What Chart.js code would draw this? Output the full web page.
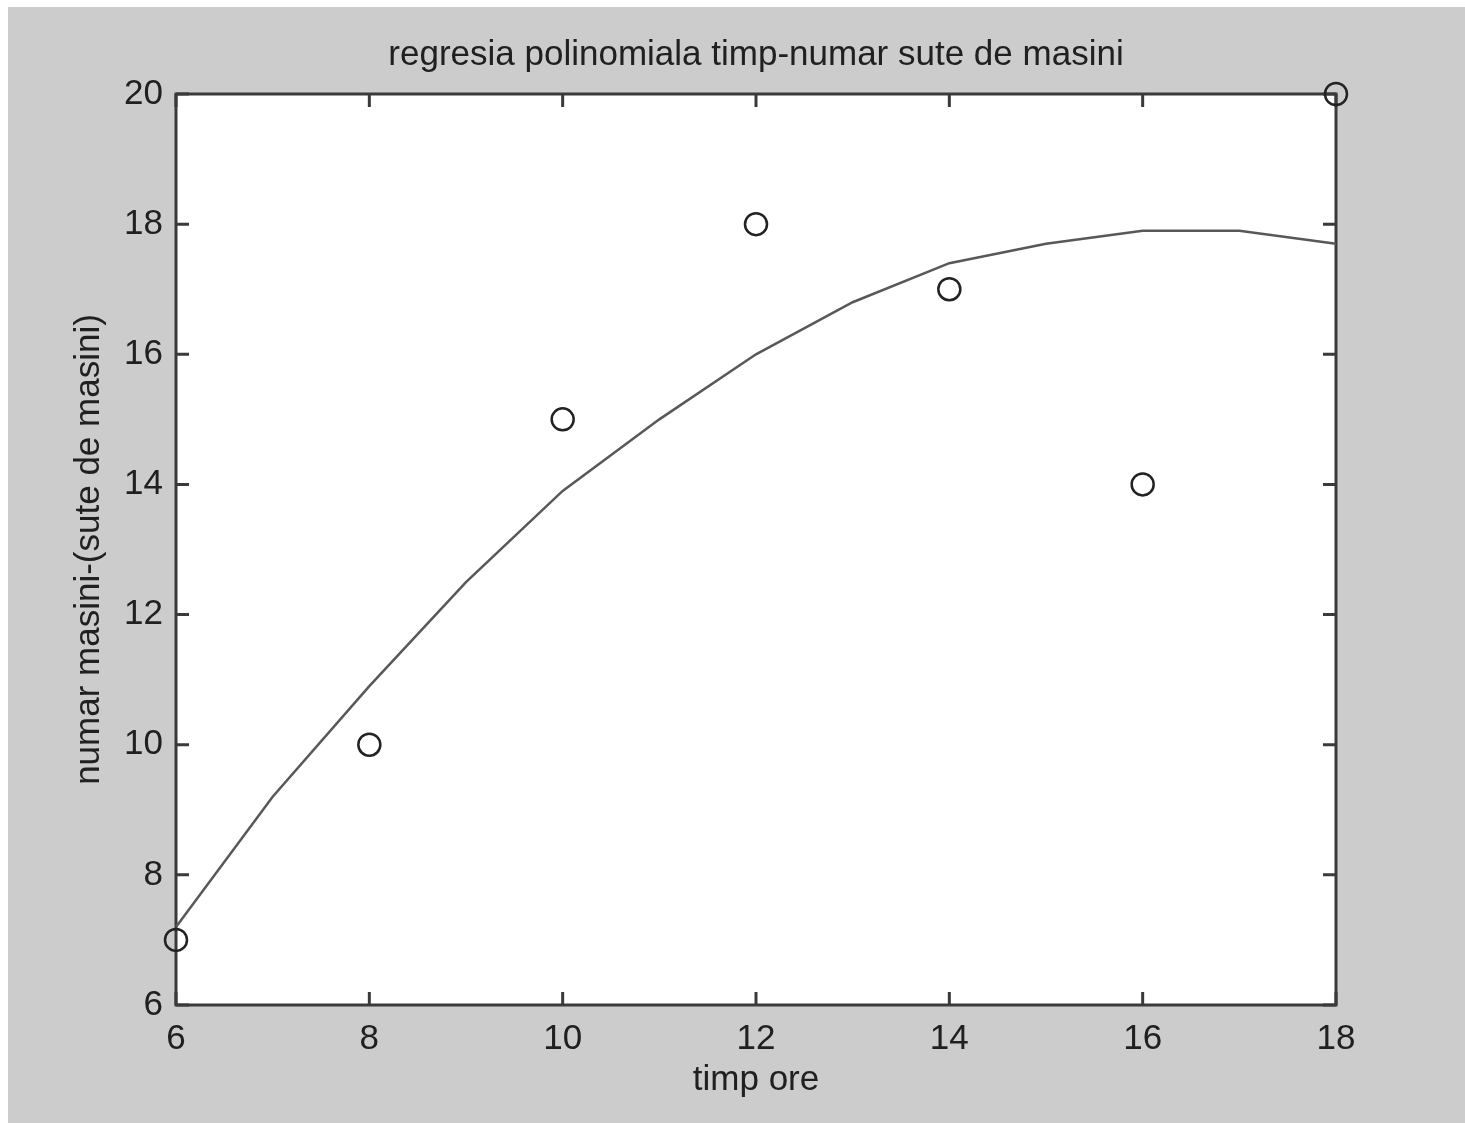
<!DOCTYPE html>
<html>
<head>
<meta charset="utf-8">
<script src="https://cdn.jsdelivr.net/npm/chart.js@4/dist/chart.umd.min.js"></script>
<style>
  html, body { margin: 0; padding: 0; background: #ffffff; }
  #wrap { position: absolute; left: 8px; top: 7px; width: 1457px; height: 1116px; background: #cccccc; }
</style>
</head>
<body>
<div id="wrap"><canvas id="chart"></canvas></div>
<script>
// measured points (ora, sute de masini)
const hours = [6, 8, 10, 12, 14, 16, 18];
const cars = [7, 10, 15, 18, 17, 14, 20];

// regression curve
const fitHours = [6, 7, 8, 9, 10, 11, 12, 13, 14, 15, 16, 17, 18];
const fitCars = [7.2, 9.2, 10.9, 12.5, 13.9, 15.0, 16.0, 16.8, 17.4, 17.7, 17.9, 17.9, 17.7];

const xRange = [6, 18];
const yRange = [6, 20];
const tickStep = 2;

const FONT = "'Liberation Sans', Arial, sans-serif";
const TEXT = '#202020';

// white plot area, box frame and inward ticks on all four sides
const frame = {
    id: 'frame',
    beforeDraw(chart) {
        const { ctx, chartArea: a } = chart;
        ctx.save();
        ctx.fillStyle = '#ffffff';
        ctx.fillRect(a.left, a.top, a.width, a.height);
        ctx.restore();
    },
    beforeDatasetsDraw(chart) {
        const { ctx, chartArea: a, scales } = chart;
        const len = 13;
        ctx.save();
        ctx.strokeStyle = '#3a3a3a';
        ctx.lineWidth = 3;
        ctx.strokeRect(a.left, a.top, a.width, a.height);
        ctx.beginPath();
        scales.x.ticks.forEach(t => {
            const px = scales.x.getPixelForValue(t.value);
            ctx.moveTo(px, a.bottom); ctx.lineTo(px, a.bottom - len);
            ctx.moveTo(px, a.top); ctx.lineTo(px, a.top + len);
        });
        scales.y.ticks.forEach(t => {
            const py = scales.y.getPixelForValue(t.value);
            ctx.moveTo(a.left, py); ctx.lineTo(a.left + len, py);
            ctx.moveTo(a.right, py); ctx.lineTo(a.right - len, py);
        });
        ctx.stroke();
        ctx.restore();
    }
};

const ctx = document.getElementById('chart').getContext('2d');
new Chart(ctx, {
    type: 'scatter',
    data: {
        datasets: [
            {
                label: 'regresie',
                data: fitHours.map((h, i) => ({ x: h, y: fitCars[i] })),
                showLine: true,
                borderColor: '#585858',
                borderWidth: 2.5,
                pointRadius: 0,
                tension: 0,
                clip: false
            },
            {
                label: 'date',
                data: hours.map((h, i) => ({ x: h, y: cars[i] })),
                pointStyle: 'circle',
                pointRadius: 11,
                borderWidth: 2.5,
                borderColor: '#222222',
                backgroundColor: 'rgba(0,0,0,0)',
                clip: false
            }
        ]
    },
    options: {
        responsive: true,
        maintainAspectRatio: false,
        animation: false,
        layout: { padding: { left: 0, top: 0, right: 129, bottom: 0 } },
        plugins: {
            legend: { display: false },
            tooltip: { enabled: false },
            title: {
                display: true,
                fullSize: false,
                text: 'regresia polinomiala timp-numar sute de masini',
                color: TEXT,
                font: { family: FONT, size: 35, weight: 'normal' },
                padding: { top: 27, bottom: 18 }
            }
        },
        scales: {
            x: {
                type: 'linear',
                min: xRange[0],
                max: xRange[1],
                grid: { display: false },
                border: { display: false },
                ticks: { stepSize: tickStep, color: TEXT, padding: 5, font: { family: FONT, size: 35 } },
                title: {
                    display: true,
                    text: 'timp ore',
                    color: TEXT,
                    font: { family: FONT, size: 35 },
                    padding: { top: 0, bottom: 22 }
                },
                afterFit(scale) { scale.height = 118; }
            },
            y: {
                type: 'linear',
                min: yRange[0],
                max: yRange[1],
                grid: { display: false },
                border: { display: false },
                ticks: { stepSize: tickStep, color: TEXT, padding: 5, font: { family: FONT, size: 35 } },
                title: {
                    display: true,
                    text: 'numar masini-(sute de masini)',
                    color: TEXT,
                    font: { family: FONT, size: 35 },
                    padding: { top: 60, bottom: 0 }
                },
                afterFit(scale) { scale.width = 168; }
            }
        }
    },
    plugins: [frame]
});
</script>
</body>
</html>
